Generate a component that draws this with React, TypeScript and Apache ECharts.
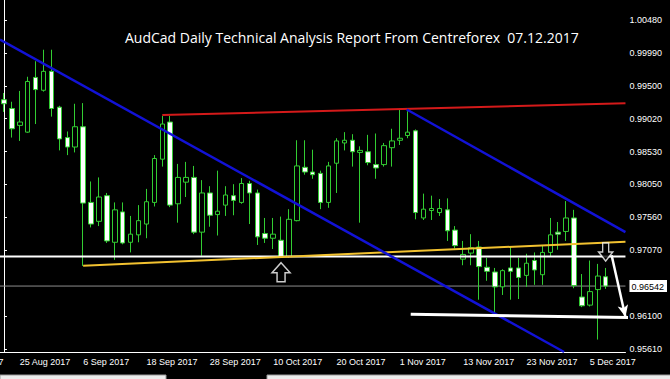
import React, { useEffect, useRef } from 'react';
import * as echarts from 'echarts';

// ---- categories (trading days) ----
const AUG_DAYS = [23, 24, 25, 28, 29, 30, 31];
const SEP_DAYS = [1, 4, 5, 6, 7, 8, 11, 12, 13, 14, 15, 18, 19, 20, 21, 22, 25, 26, 27, 28, 29];
const OCT_DAYS = [2, 3, 4, 5, 6, 9, 10, 11, 12, 13, 16, 17, 18, 19, 20, 23, 24, 25, 26, 27, 30, 31];
const NOV_DAYS = [1, 2, 3, 6, 7, 8, 9, 10, 13, 14, 15, 16, 17, 20, 21, 22, 23, 24, 27, 28, 29, 30];
const DEC_DAYS = [1, 4, 5, 6, 7];
const dates = [
  ...AUG_DAYS.map((d) => `${d} Aug 2017`),
  ...SEP_DAYS.map((d) => `${d} Sep 2017`),
  ...OCT_DAYS.map((d) => `${d} Oct 2017`),
  ...NOV_DAYS.map((d) => `${d} Nov 2017`),
  ...DEC_DAYS.map((d) => `${d} Dec 2017`),
];
const EMPTY_SLOTS = ['', ''];
const categories = [...dates, ...EMPTY_SLOTS];

// ---- OHLC ----
const opens = [
  0.9930, 0.9917, 0.9892, 0.9882, 0.9963, 0.9944, 0.9972, 0.9919, 0.9874, 0.9860,
  0.9890, 0.9778, 0.9750, 0.9788, 0.9719, 0.9764, 0.9719, 0.9730, 0.9746, 0.9778,
  0.9842, 0.9897, 0.9776, 0.9808, 0.9815, 0.9734, 0.9792, 0.9760, 0.9774, 0.9788,
  0.9778, 0.9806, 0.9792, 0.9732, 0.9725, 0.9722, 0.9698, 0.9751, 0.9830, 0.9823,
  0.9821, 0.9778, 0.9836, 0.9866, 0.9870, 0.9852, 0.9853, 0.9834, 0.9834, 0.9859,
  0.9870, 0.9877, 0.9884, 0.9755, 0.9766, 0.9763, 0.9767, 0.9737, 0.9694, 0.9703,
  0.9712, 0.9682, 0.9675, 0.9653, 0.9681, 0.9681, 0.9670, 0.9692, 0.9671, 0.9704,
  0.9734, 0.9735, 0.9755, 0.9638, 0.9626, 0.9649, 0.9668,
];
const closes = [
  0.9924, 0.9887, 0.9897, 0.9957, 0.9945, 0.9972, 0.9917, 0.9872, 0.9860, 0.9890,
  0.9777, 0.9746, 0.9786, 0.9721, 0.9767, 0.9718, 0.9731, 0.9751, 0.9779, 0.9843,
  0.9894, 0.9774, 0.9815, 0.9815, 0.9734, 0.9792, 0.9759, 0.9765, 0.9789, 0.9781,
  0.9806, 0.9792, 0.9727, 0.9725, 0.9731, 0.9698, 0.9753, 0.9832, 0.9823, 0.9819,
  0.9778, 0.9832, 0.9869, 0.9870, 0.9853, 0.9855, 0.9837, 0.9829, 0.9862, 0.9869,
  0.9873, 0.9882, 0.9763, 0.9768, 0.9769, 0.9769, 0.9736, 0.9714, 0.9701, 0.9711,
  0.9683, 0.9676, 0.9653, 0.9677, 0.9676, 0.9667, 0.9688, 0.9678, 0.9704, 0.9730,
  0.9731, 0.9755, 0.9655, 0.9625, 0.9646, 0.9669, 0.96542,
];
const lows = [
  0.9912, 0.9874, 0.9869, 0.9881, 0.9894, 0.9942, 0.9905, 0.9855, 0.9848, 0.9852,
  0.9684, 0.9741, 0.9743, 0.9718, 0.9693, 0.9716, 0.9704, 0.9719, 0.9725, 0.9772,
  0.9831, 0.9771, 0.9748, 0.9786, 0.9731, 0.9699, 0.9742, 0.9729, 0.9758, 0.9759,
  0.9776, 0.9746, 0.9715, 0.9718, 0.9709, 0.9696, 0.9696, 0.9750, 0.9819, 0.9813,
  0.9768, 0.9770, 0.9792, 0.9855, 0.9831, 0.9748, 0.9833, 0.9813, 0.9831, 0.9831,
  0.9863, 0.9873, 0.9753, 0.9752, 0.9752, 0.9758, 0.9721, 0.9710, 0.9685, 0.9685,
  0.9634, 0.9662, 0.9614, 0.9641, 0.9634, 0.9635, 0.9653, 0.9656, 0.9656, 0.9698,
  0.9708, 0.9721, 0.9651, 0.9623, 0.9624, 0.9575, 0.9650,
];
const highs = [
  0.9940, 0.9927, 0.9943, 0.9964, 0.9987, 1.0004, 1.0004, 0.9921, 0.9883, 0.9924,
  0.9925, 0.9809, 0.9815, 0.9792, 0.9778, 0.9778, 0.9758, 0.9774, 0.9798, 0.9848,
  0.9906, 0.9906, 0.9835, 0.9838, 0.9832, 0.9811, 0.9802, 0.9825, 0.9802, 0.9805,
  0.9814, 0.9810, 0.9797, 0.9755, 0.9755, 0.9757, 0.9768, 0.9870, 0.9870, 0.9856,
  0.9825, 0.9838, 0.9873, 0.9882, 0.9879, 0.9861, 0.9878, 0.9880, 0.9866, 0.9887,
  0.9917, 0.9913, 0.9886, 0.9791, 0.9788, 0.9783, 0.9784, 0.9743, 0.9721, 0.9731,
  0.9721, 0.9696, 0.9681, 0.9679, 0.9713, 0.9696, 0.9702, 0.9704, 0.9715, 0.9755,
  0.9749, 0.9780, 0.9767, 0.9672, 0.9692, 0.9687, 0.9681,
];

// ---- price axis ----
const Y_MIN = 0.95566;
const Y_MAX = 1.00776;
const BID = 0.96542;
const yTickValues = [0.9561, 0.961, 0.9707, 0.9756, 0.9805, 0.9853, 0.9902, 0.995, 0.9999, 1.0048];
const yLabelValues = [...yTickValues, BID];

// ---- drawn objects: [bar index, price] ----
const redLine = [[20, 0.99074], [78.5, 0.99247]];
const blueLineUpper = [[-0.5, 1.0019], [70.75, 0.95566]];
const blueLineRight = [[50.875, 0.99155], [78.5, 0.9734]];
const orangeLine = [[10, 0.96842], [78.5, 0.97199]];
const whiteSupport = [[51.375, 0.96123], [79.3, 0.96077]];
const whiteLevel = [[-0.5, 0.9698], [78.5, 0.9698]];
const bidLine = [[-0.5, BID], [78.5, BID]];
const arrowLine = [[76.75, 0.96998], [78.5, 0.96083]];
const upArrowPoint = [35, 0.96747];
const downArrowPoint = [76, 0.97046];

const TITLE = 'AudCad Daily Technical Analysis Report From Centreforex  07.12.2017';
const CUT_LABEL = '15 Aug 2017';

const AXIS_FONT = 'Liberation Sans';

const labelEvery = (index: number) => index >= 2 && index < dates.length && (index - 2) % 8 === 0;

export default function App() {
  const ref = useRef<HTMLDivElement>(null);
  useEffect(() => {
    document.body.style.margin = '0';
    document.body.style.background = '#000';
    if (!ref.current) return;
    const chart = echarts.init(ref.current, undefined, { renderer: 'svg' });

    const trend = (data: number[][], color: string, width: number, clip = true, z = 3) => ({
      type: 'line',
      xAxisIndex: 1,
      data,
      symbol: 'none',
      silent: true,
      clip,
      lineStyle: { color, width },
      z,
    });

    const option: any = {
      animation: false,
      backgroundColor: '#000',
      title: {
        text: TITLE,
        left: 125,
        top: 30,
        padding: 0,
        textStyle: { color: '#fff', fontSize: 14, fontWeight: 'normal', fontFamily: 'Open Sans' },
      },
      grid: { left: -6, top: 0, width: 632, height: 352 },
      xAxis: [
        {
          type: 'category',
          data: categories,
          boundaryGap: true,
          axisLine: { lineStyle: { color: '#fff', width: 1 } },
          axisTick: { interval: labelEvery, alignWithLabel: true, length: 4, lineStyle: { color: '#fff' } },
          axisLabel: {
            interval: labelEvery,
            color: '#fff',
            fontSize: 9,
            fontFamily: AXIS_FONT,
            align: 'left',
            margin: 5,
          },
          splitLine: { show: false },
        },
        { type: 'value', min: -0.5, max: 78.5, show: false },
      ],
      yAxis: {
        type: 'value',
        position: 'right',
        min: Y_MIN,
        max: Y_MAX,
        axisLine: { show: true, lineStyle: { color: '#fff', width: 1 } },
        axisTick: { show: true, customValues: yTickValues, length: 3, lineStyle: { color: '#fff' } },
        axisLabel: {
          customValues: yLabelValues,
          formatter: (v: number) => (Math.abs(v - BID) < 1e-7 ? `{bid|${v.toFixed(5)}}` : v.toFixed(5)),
          color: '#fff',
          fontSize: 9,
          fontFamily: AXIS_FONT,
          margin: 4,
          rich: {
            bid: {
              color: '#000',
              backgroundColor: '#fff',
              fontSize: 9,
              fontFamily: AXIS_FONT,
              padding: [2, 3, 1, 2],
            },
          },
        },
        splitLine: { show: false },
      },
      graphic: [
        {
          type: 'text',
          left: -47,
          top: 357,
          style: { text: CUT_LABEL, fill: '#fff', font: `9px "${AXIS_FONT}"` },
        },
        { type: 'rect', shape: { x: 0, y: 375, width: 166, height: 6 }, style: { fill: '#ececec', stroke: '#9a9a9a' } },
        { type: 'rect', shape: { x: 267, y: 375, width: 410, height: 6 }, style: { fill: '#ececec', stroke: '#9a9a9a' } },
      ],
      series: [
        trend(bidLine, '#8c8c8c', 1, true, 1),
        {
          type: 'candlestick',
          xAxisIndex: 0,
          data: opens.map((o, i) => [o, closes[i], lows[i], highs[i]]),
          barWidth: 5,
          itemStyle: {
            color: '#000',
            color0: '#fff',
            borderColor: '#32cd32',
            borderColor0: '#32cd32',
            borderColorDoji: '#32cd32',
            borderWidth: 1,
          },
          z: 2,
        },
        trend(whiteLevel, '#ffffff', 2),
        trend(orangeLine, '#f2c230', 2),
        trend(redLine, '#d41a1a', 2),
        trend(blueLineUpper, '#1212d6', 2.5),
        trend(blueLineRight, '#1212d6', 2.5),
        trend(whiteSupport, '#ffffff', 3, false),
        {
          type: 'line',
          xAxisIndex: 1,
          data: [],
          clip: false,
          silent: true,
          z: 4,
          markLine: {
            silent: true,
            animation: false,
            symbol: ['none', 'arrow'],
            symbolSize: [8, 12],
            label: { show: false },
            itemStyle: { color: '#fff' },
            lineStyle: { color: '#fff', width: 2.5, type: 'solid' },
            data: [[{ coord: arrowLine[0] }, { coord: arrowLine[1] }]],
          },
        },
        {
          type: 'scatter',
          xAxisIndex: 0,
          silent: true,
          z: 5,
          itemStyle: { color: '#000', borderColor: '#fff', borderWidth: 1.5 },
          data: [
            {
              value: upArrowPoint,
              symbol: 'path://M9,0 L18,10 L13,10 L13,19 L5,19 L5,10 L0,10 Z',
              symbolSize: [18, 19],
            },
            {
              value: downArrowPoint,
              symbol: 'path://M4,0 L10,0 L10,9 L14,9 L7,18 L0,9 L4,9 Z',
              symbolSize: [14, 18],
            },
          ],
        },
      ],
    };
    chart.setOption(option);
    return () => chart.dispose();
  }, []);
  return <div ref={ref} style={{ width: 670, height: 379, background: '#000' }} />;
}
